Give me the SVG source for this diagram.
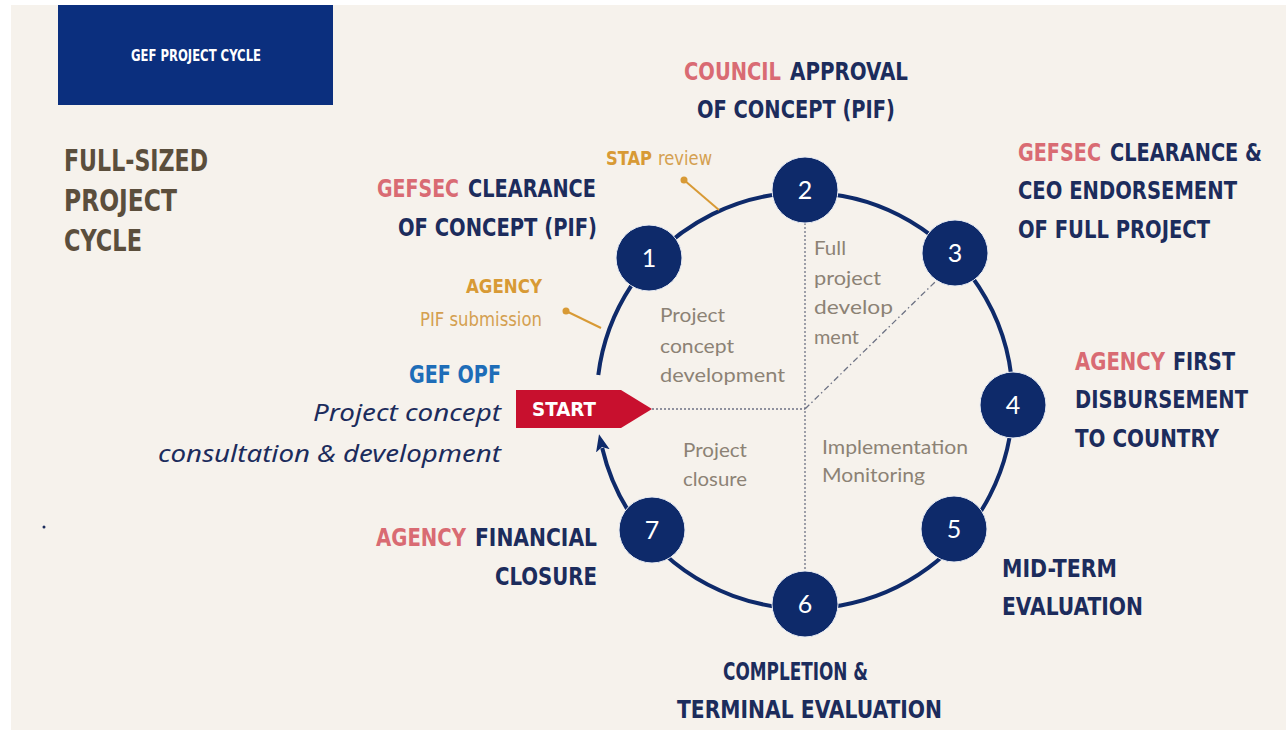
<svg xmlns="http://www.w3.org/2000/svg" width="1286" height="730" viewBox="0 0 1286 730">
<style>
.b{font-family:"DejaVu Sans Condensed","DejaVu Sans","Liberation Sans",sans-serif;font-weight:bold;font-size:25px;fill:#1c2c5c}
.pk{fill:#d96b73}
.og{font-family:"DejaVu Sans Condensed","DejaVu Sans",sans-serif;font-weight:bold;font-size:19px;fill:#d89a35}
.ogl{font-family:"DejaVu Sans Condensed","DejaVu Sans",sans-serif;font-size:19px;fill:#d4a050}
.gr{font-family:"Lato","Noto Sans",sans-serif;font-size:19px;fill:#8c8275}
.it{font-family:"Noto Sans","DejaVu Sans",sans-serif;font-style:italic;font-size:24px;fill:#1c2c5c}
.num{font-family:"Lato","Noto Sans",sans-serif;font-size:25px;fill:#ffffff;text-anchor:middle}
.node{fill:#0e2a6a;stroke:#e8ecf4;stroke-width:1}
.dot{stroke:#6d7284;stroke-width:1.3;stroke-dasharray:2 2;fill:none}
</style>
<defs>
<marker id="ah" markerUnits="userSpaceOnUse" markerWidth="20" markerHeight="18" refX="3" refY="9" orient="auto">
<path d="M0,2 L17,9 L0,16 L4,9 Z" fill="#0e2a6a"/>
</marker>
</defs>
<rect x="0" y="0" width="1286" height="730" fill="#ffffff"/>
<rect x="11" y="5" width="1275" height="725" fill="#f6f2ec"/>
<g id="title-box">
<rect x="58" y="5" width="275" height="100" fill="#0b2f7e"/>
<text x="196" y="61" text-anchor="middle" font-family="DejaVu Sans Condensed,DejaVu Sans,sans-serif" font-weight="bold" font-size="16" fill="#ffffff" textLength="130" lengthAdjust="spacingAndGlyphs">GEF PROJECT CYCLE</text>
</g>
<g id="fsp-title" font-family="DejaVu Sans Condensed,DejaVu Sans,sans-serif" font-weight="bold" font-size="30" fill="#5b4e3c">
<text x="64" y="171" textLength="144" lengthAdjust="spacingAndGlyphs">FULL-SIZED</text>
<text x="64" y="211" textLength="113" lengthAdjust="spacingAndGlyphs">PROJECT</text>
<text x="64" y="251" textLength="78" lengthAdjust="spacingAndGlyphs">CYCLE</text>
</g>
<circle cx="44" cy="527" r="1.5" fill="#1c2c5c"/>
<g id="connectors">
<path d="M598.3,375 A208,208 0 1 1 602.2,448" fill="none" stroke="#0e2a6a" stroke-width="4" marker-end="url(#ah)"/>
<line class="dot" x1="652" y1="409" x2="805" y2="409"/>
<line class="dot" x1="805" y1="223" x2="805" y2="572"/>
<line x1="805" y1="409" x2="935" y2="282" stroke="#6d7284" stroke-width="1.3" stroke-dasharray="6 3 1.5 3" fill="none"/>
<line x1="684" y1="180" x2="719" y2="210" stroke="#d89a35" stroke-width="2"/>
<circle cx="684" cy="180" r="3.5" fill="#d89a35"/>
<line x1="566" y1="311" x2="601" y2="328" stroke="#d89a35" stroke-width="2"/>
<circle cx="566" cy="311" r="3.5" fill="#d89a35"/>
</g>
<g id="start">
<path d="M516,390 L621,390 L652,409 L621,428 L516,428 Z" fill="#c8102e"/>
<text x="532" y="416" font-family="DejaVu Sans,sans-serif" font-weight="bold" font-size="19" fill="#ffffff" textLength="64" lengthAdjust="spacingAndGlyphs">START</text>
</g>
<g id="node1"><circle class="node" cx="649" cy="258" r="33"/><text class="num" x="649" y="267">1</text></g>
<g id="node2"><circle class="node" cx="805" cy="190" r="33"/><text class="num" x="805" y="199">2</text></g>
<g id="node3"><circle class="node" cx="955" cy="253" r="33"/><text class="num" x="955" y="262">3</text></g>
<g id="node4"><circle class="node" cx="1013" cy="405" r="33"/><text class="num" x="1013" y="414">4</text></g>
<g id="node5"><circle class="node" cx="954" cy="529" r="33"/><text class="num" x="954" y="538">5</text></g>
<g id="node6"><circle class="node" cx="805" cy="604" r="33"/><text class="num" x="805" y="613">6</text></g>
<g id="node7"><circle class="node" cx="652" cy="530" r="33"/><text class="num" x="652" y="539">7</text></g>
<g id="labels">
<text class="b pk" x="684" y="80" textLength="97" lengthAdjust="spacingAndGlyphs">COUNCIL</text>
<text class="b" x="790" y="80" textLength="118" lengthAdjust="spacingAndGlyphs">APPROVAL</text>
<text class="b" x="697" y="118" textLength="198" lengthAdjust="spacingAndGlyphs">OF CONCEPT (PIF)</text>
<text class="b pk" x="1018" y="161" textLength="83" lengthAdjust="spacingAndGlyphs">GEFSEC</text>
<text class="b" x="1110" y="161" textLength="152" lengthAdjust="spacingAndGlyphs">CLEARANCE &amp;</text>
<text class="b" x="1018" y="199" textLength="219" lengthAdjust="spacingAndGlyphs">CEO ENDORSEMENT</text>
<text class="b" x="1018" y="238" textLength="192" lengthAdjust="spacingAndGlyphs">OF FULL PROJECT</text>
<text class="b pk" x="377" y="197" textLength="82" lengthAdjust="spacingAndGlyphs">GEFSEC</text>
<text class="b" x="468" y="197" textLength="128" lengthAdjust="spacingAndGlyphs">CLEARANCE</text>
<text class="b" x="398" y="236" textLength="199" lengthAdjust="spacingAndGlyphs">OF CONCEPT (PIF)</text>
<text class="b pk" x="1075" y="370" textLength="90" lengthAdjust="spacingAndGlyphs">AGENCY</text>
<text class="b" x="1173" y="370" textLength="62" lengthAdjust="spacingAndGlyphs">FIRST</text>
<text class="b" x="1075" y="408" textLength="173" lengthAdjust="spacingAndGlyphs">DISBURSEMENT</text>
<text class="b" x="1075" y="447" textLength="144" lengthAdjust="spacingAndGlyphs">TO COUNTRY</text>
<text class="b" x="1002" y="577" textLength="115" lengthAdjust="spacingAndGlyphs">MID-TERM</text>
<text class="b" x="1002" y="615" textLength="141" lengthAdjust="spacingAndGlyphs">EVALUATION</text>
<text class="b" x="723" y="680" textLength="145" lengthAdjust="spacingAndGlyphs">COMPLETION &amp;</text>
<text class="b" x="677" y="718" textLength="265" lengthAdjust="spacingAndGlyphs">TERMINAL EVALUATION</text>
<text class="b pk" x="376" y="546" textLength="90" lengthAdjust="spacingAndGlyphs">AGENCY</text>
<text class="b" x="475" y="546" textLength="122" lengthAdjust="spacingAndGlyphs">FINANCIAL</text>
<text class="b" x="495" y="585" textLength="102" lengthAdjust="spacingAndGlyphs">CLOSURE</text>
<text class="b" x="409" y="383" style="fill:#1e6db8" textLength="92" lengthAdjust="spacingAndGlyphs">GEF OPF</text>
<text class="it" x="313" y="421" textLength="188" lengthAdjust="spacingAndGlyphs">Project concept</text>
<text class="it" x="158" y="462" textLength="343" lengthAdjust="spacingAndGlyphs">consultation &amp; development</text>
<text class="og" x="606" y="165" textLength="46" lengthAdjust="spacingAndGlyphs">STAP</text>
<text class="ogl" x="658" y="165" textLength="54" lengthAdjust="spacingAndGlyphs">review</text>
<text class="og" x="466" y="293" textLength="76" lengthAdjust="spacingAndGlyphs">AGENCY</text>
<text class="ogl" x="420" y="326" textLength="122" lengthAdjust="spacingAndGlyphs">PIF submission</text>
<text class="gr" x="660" y="322" textLength="65" lengthAdjust="spacingAndGlyphs">Project</text>
<text class="gr" x="660" y="353" textLength="74" lengthAdjust="spacingAndGlyphs">concept</text>
<text class="gr" x="660" y="382" textLength="125" lengthAdjust="spacingAndGlyphs">development</text>
<text class="gr" x="814" y="255" textLength="32" lengthAdjust="spacingAndGlyphs">Full</text>
<text class="gr" x="814" y="285" textLength="67" lengthAdjust="spacingAndGlyphs">project</text>
<text class="gr" x="814" y="314" textLength="79" lengthAdjust="spacingAndGlyphs">develop</text>
<text class="gr" x="814" y="344" textLength="45" lengthAdjust="spacingAndGlyphs">ment</text>
<text class="gr" x="822" y="454" textLength="146" lengthAdjust="spacingAndGlyphs">Implementation</text>
<text class="gr" x="822" y="482" textLength="103" lengthAdjust="spacingAndGlyphs">Monitoring</text>
<text class="gr" x="683" y="457" textLength="64" lengthAdjust="spacingAndGlyphs">Project</text>
<text class="gr" x="683" y="486" textLength="64" lengthAdjust="spacingAndGlyphs">closure</text>
</g>
</svg>
